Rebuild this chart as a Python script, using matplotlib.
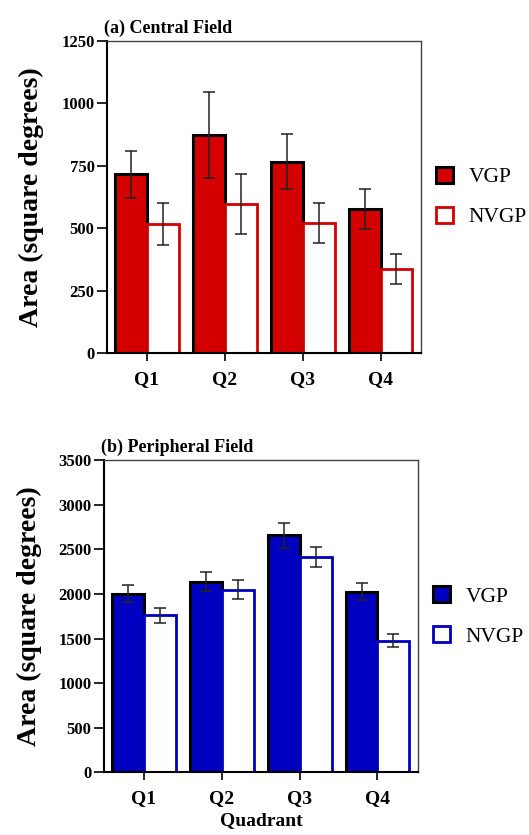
import numpy as np
import matplotlib
matplotlib.use('Agg')
import matplotlib.pyplot as plt
from matplotlib.patches import Patch

plt.rcParams['font.family'] = ['Liberation Serif', 'DejaVu Serif']

quadrants = ['Q1', 'Q2', 'Q3', 'Q4']

# (a) Central field
central_vgp = [717, 872, 766, 576]
central_vgp_err = [94, 172, 110, 80]
central_nvgp = [516, 597, 522, 335]
central_nvgp_err = [84, 121, 80, 60]

# (b) Peripheral field
periph_vgp = [2000, 2135, 2657, 2027]
periph_vgp_err = [95, 105, 138, 93]
periph_nvgp = [1760, 2045, 2411, 1478]
periph_nvgp_err = [82, 106, 115, 78]

red = '#d40000'
blue = '#0000c0'


def draw_panel(ax, vgp, vgp_err, nvgp, nvgp_err, color, ymax, step, title):
    x = np.arange(1, len(quadrants) + 1)
    w = 0.41
    ax.bar(x - w / 2, vgp, width=w, color=color, edgecolor='black', linewidth=2.2, zorder=2)
    ax.bar(x + w / 2, nvgp, width=w, color='white', edgecolor=color, linewidth=2.0, zorder=2)
    ax.errorbar(x - w / 2, vgp, yerr=vgp_err, fmt='none', ecolor='#222222',
                elinewidth=1.1, capsize=4, capthick=1.1, zorder=3)
    ax.errorbar(x + w / 2, nvgp, yerr=nvgp_err, fmt='none', ecolor='#222222',
                elinewidth=1.1, capsize=4, capthick=1.1, zorder=3)

    ax.set_xlim(0.49, 4.52)
    ax.set_ylim(0, ymax)
    ax.set_yticks(np.arange(0, ymax + 1, step))
    ax.set_xticks(x)
    ax.set_xticklabels(quadrants, fontsize=14, fontweight='bold')
    for lab in ax.get_yticklabels():
        lab.set_fontweight('bold')
        lab.set_fontsize(12)
    ax.tick_params(axis='y', direction='out', length=7, width=1.2, pad=2)
    ax.tick_params(axis='x', direction='out', length=6, width=1.2, pad=7)
    ax.spines['left'].set_linewidth(1.5)
    ax.spines['bottom'].set_linewidth(1.5)
    ax.spines['top'].set_linewidth(1.0)
    ax.spines['right'].set_linewidth(1.0)
    ax.spines['top'].set_color('#444444')
    ax.spines['right'].set_color('#444444')
    ax.set_ylabel('Area (square degrees)', fontsize=20, fontweight='bold', labelpad=12)
    ax.set_title(title, fontsize=13, fontweight='bold', loc='left', x=-0.01, pad=6)

    handles = [Patch(facecolor=color, edgecolor='black', linewidth=2.2, label='VGP'),
               Patch(facecolor='white', edgecolor=color, linewidth=2.0, label='NVGP')]
    ax.legend(handles=handles, loc='center left', bbox_to_anchor=(1.0, 0.5),
              frameon=False, fontsize=15.5, handlelength=0.8, handleheight=0.8,
              handletextpad=0.7, labelspacing=0.9, borderaxespad=0.3)


fig = plt.figure(figsize=(5.29, 8.35), dpi=100)
ax1 = fig.add_axes([0.2023, 0.5772, 0.5936, 0.3737])
ax2 = fig.add_axes([0.1966, 0.0749, 0.5936, 0.3742])

draw_panel(ax1, central_vgp, central_vgp_err, central_nvgp, central_nvgp_err,
           red, 1250, 250, '(a) Central Field')
draw_panel(ax2, periph_vgp, periph_vgp_err, periph_nvgp, periph_nvgp_err,
           blue, 3500, 500, '(b) Peripheral Field')
ax2.set_xlabel('Quadrant', fontsize=14, fontweight='bold', labelpad=3)

fig.savefig('out.png', dpi=100)
